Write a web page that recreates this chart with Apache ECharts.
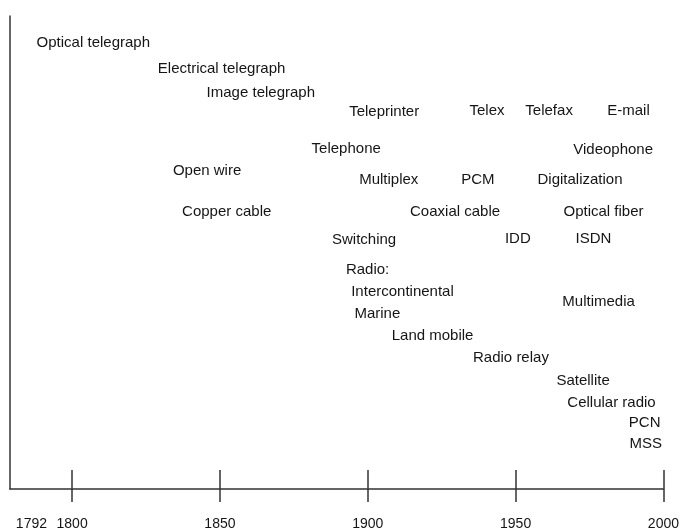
<!DOCTYPE html>
<html>
<head>
<meta charset="utf-8">
<script src="https://cdn.jsdelivr.net/npm/echarts@6/dist/echarts.min.js"></script>
<style>
  html, body { margin: 0; padding: 0; background: #fff; }
  #chart { width: 682px; height: 531px; }
</style>
</head>
<body>
<div id="chart"></div>
<script>
// timeline entries: name, year where the text starts, row (distance down from the top)
const names = [
  'Optical telegraph', 'Electrical telegraph', 'Image telegraph',
  'Teleprinter', 'Telex', 'Telefax', 'E-mail',
  'Telephone', 'Videophone', 'Open wire',
  'Multiplex', 'PCM', 'Digitalization',
  'Copper cable', 'Coaxial cable', 'Optical fiber',
  'Switching', 'IDD', 'ISDN',
  'Radio:', 'Intercontinental', 'Multimedia', 'Marine', 'Land mobile',
  'Radio relay', 'Satellite', 'Cellular radio', 'PCN', 'MSS'
]
const years = [
  1788, 1829, 1845.5,
  1893.7, 1934.4, 1953.3, 1981,
  1881, 1969.5, 1834.1,
  1897.1, 1931.6, 1957.4,
  1837.2, 1914.3, 1966.2,
  1887.9, 1946.4, 1970.3,
  1892.6, 1894.4, 1965.8, 1895.5, 1908.1,
  1935.6, 1963.8, 1967.5, 1988.3, 1988.5
]
const rows = [
  27.5, 53.5, 77.5,
  96.5, 95.5, 95.5, 95.5,
  133.5, 134.5, 156.5,
  165.5, 165.5, 165.5,
  197.5, 197.5, 197.5,
  225.5, 224.5, 224.5,
  256.5, 278.5, 288.5, 300.5, 322.5,
  344.5, 367.5, 390.5, 410.5, 431.5
]
const tickYears = [1800, 1850, 1900, 1950, 2000]
const labelYears = [1792, 1800, 1850, 1900, 1950, 2000]

const chart = echarts.init(document.getElementById('chart'))
const textColor = '#151515'
const lineColor = '#333'

chart.setOption({
  animation: false,
  grid: { left: 10, right: 14, top: 16, bottom: 38 },
  xAxis: [{
    type: 'value',
    position: 'bottom',
    min: 1779,
    max: 2000,
    splitLine: { show: false },
    axisLine: { show: true, onZero: false, lineStyle: { color: lineColor, width: 1.5 } },
    axisTick: {
      show: true,
      customValues: tickYears,
      length: 13,
      lineStyle: { color: lineColor, width: 1.5 }
    },
    axisLabel: {
      customValues: labelYears,
      margin: 28,
      fontFamily: 'Liberation Sans, Arial',
      fontSize: 14,
      color: textColor,
      formatter: v => v === 1792 ? '{o|' + v + '}' : String(v),
      rich: { o: { fontFamily: 'Liberation Sans, Arial', fontSize: 14, color: textColor, padding: [0, 34, 0, 0] } }
    }
  }, {
    type: 'value',
    position: 'bottom',
    min: 1779,
    max: 2000,
    splitLine: { show: false },
    axisLine: { show: false, onZero: false },
    axisTick: {
      show: true,
      inside: true,
      customValues: tickYears,
      length: 19,
      lineStyle: { color: lineColor, width: 1.5 }
    },
    axisLabel: { show: false }
  }],
  yAxis: {
    type: 'value',
    inverse: true,
    min: 0,
    max: 477,
    splitLine: { show: false },
    axisTick: { show: false },
    axisLabel: { show: false },
    axisLine: { show: true, onZero: false, lineStyle: { color: lineColor, width: 1.5 } }
  },
  series: [{
    type: 'scatter',
    symbolSize: 0,
    itemStyle: { opacity: 1 },
    data: names.map((n, i) => [years[i], rows[i], n]),
    label: {
      show: true,
      position: 'right',
      distance: 0,
      formatter: p => p.value[2],
      fontFamily: 'Liberation Sans, Arial',
      fontSize: 15,
      color: textColor
    }
  }]
})
</script>
</body>
</html>
